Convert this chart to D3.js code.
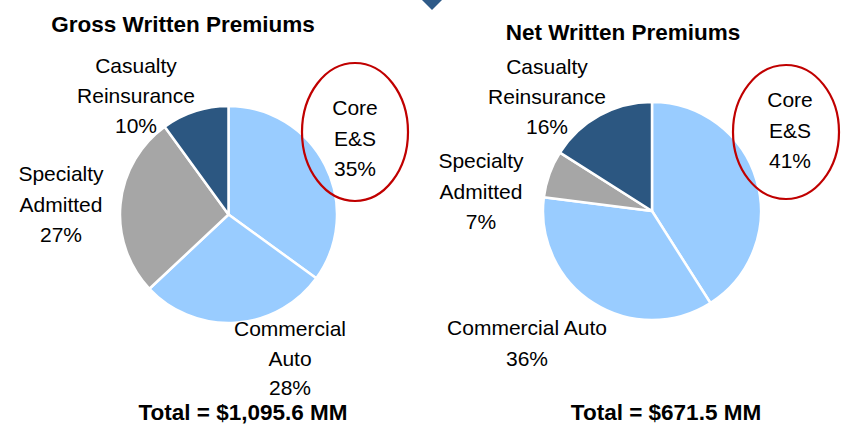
<!DOCTYPE html>
<meta charset="utf-8">
<head>
  <title>Written Premiums</title>
</head>
<style>
  body { margin: 0; background: #fff; }
  svg text { font-family: "Liberation Sans", Arial, sans-serif; fill: #000; }
  .lbl { font-size: 21px; }
  .ttl { font-size: 22.5px; font-weight: bold; }
</style>

<script src="https://d3js.org/d3.v7.min.js"></script>

<div id="my_dataviz"></div>

<script>
  // data
  var categories = ["Core E&S", "Commercial Auto", "Specialty Admitted", "Casualty Reinsurance"];
  var grossValues = [35, 28, 27, 10];
  var netValues = [41, 36, 7, 16];
  var titles = ["Gross Written Premiums", "Net Written Premiums"];
  var totals = ["Total = $1,095.6 MM", "Total = $671.5 MM"];

  var colors = ["#99CCFF", "#99CCFF", "#A6A6A6", "#2C5781"];

  var width = 842,
    height = 425;

  var svg = d3.select("#my_dataviz")
    .append("svg")
    .attr("width", width)
    .attr("height", height);

  // little marker cut off at the top
  svg.append("path")
    .attr("d", "M422,0 L442,0 L432,10 Z")
    .style("fill", "#2E5A88");

  // layout for each pie: centre, radius, title/total spots, label spots
  var layouts = [
    {
      cx: 228.5, cy: 214.5, r: 108.5,
      title: [183, 32], total: [243, 420],
      ellipse: [355, 132, 53, 69],
      labels: [
        { x: 355, y: 115, lines: ["Core", "E&S"], gap: 30.5 },
        { x: 290, y: 336, lines: ["Commercial", "Auto"], gap: 29.5 },
        { x: 61, y: 181, lines: ["Specialty", "Admitted"], gap: 30.5 },
        { x: 136, y: 73, lines: ["Casualty", "Reinsurance"], gap: 30 }
      ]
    },
    {
      cx: 652, cy: 211, r: 109,
      title: [623, 40], total: [666, 420],
      ellipse: [786, 132, 53, 67],
      labels: [
        { x: 790, y: 107, lines: ["Core", "E&S"], gap: 30.5 },
        { x: 527, y: 335, lines: ["Commercial Auto"], gap: 30.5 },
        { x: 481, y: 168, lines: ["Specialty", "Admitted"], gap: 30.5 },
        { x: 547, y: 74, lines: ["Casualty", "Reinsurance"], gap: 30 }
      ]
    }
  ];

  var pie = d3.pie().sort(null).value(function(d) { return d; });

  [grossValues, netValues].forEach(function(values, k) {
    var lay = layouts[k];
    var arc = d3.arc().innerRadius(0).outerRadius(lay.r);

    var g = svg.append("g")
      .attr("transform", "translate(" + lay.cx + "," + lay.cy + ")");

    g.selectAll("path")
      .data(pie(values))
      .enter()
      .append("path")
      .attr("d", arc)
      .style("fill", function(d, i) { return colors[i]; })
      .style("stroke", "#fff")
      .style("stroke-width", 2.5)
      .style("stroke-linejoin", "round");

    // title + total
    svg.append("text")
      .attr("class", "ttl")
      .attr("x", lay.title[0])
      .attr("y", lay.title[1])
      .style("text-anchor", "middle")
      .text(titles[k]);
    svg.append("text")
      .attr("class", "ttl")
      .attr("x", lay.total[0])
      .attr("y", lay.total[1])
      .style("text-anchor", "middle")
      .text(totals[k]);

    // slice labels
    lay.labels.forEach(function(l, i) {
      var t = svg.append("text")
        .attr("class", "lbl")
        .style("text-anchor", "middle");
      var lines = l.lines.concat([values[i] + "%"]);
      lines.forEach(function(s, j) {
        t.append("tspan")
          .attr("x", l.x)
          .attr("y", l.y + j * l.gap)
          .text(s);
      });
    });

    // red highlight round Core E&S
    svg.append("ellipse")
      .attr("cx", lay.ellipse[0])
      .attr("cy", lay.ellipse[1])
      .attr("rx", lay.ellipse[2])
      .attr("ry", lay.ellipse[3])
      .style("fill", "none")
      .style("stroke", "#C00000")
      .style("stroke-width", 2.2);
  });
</script>
